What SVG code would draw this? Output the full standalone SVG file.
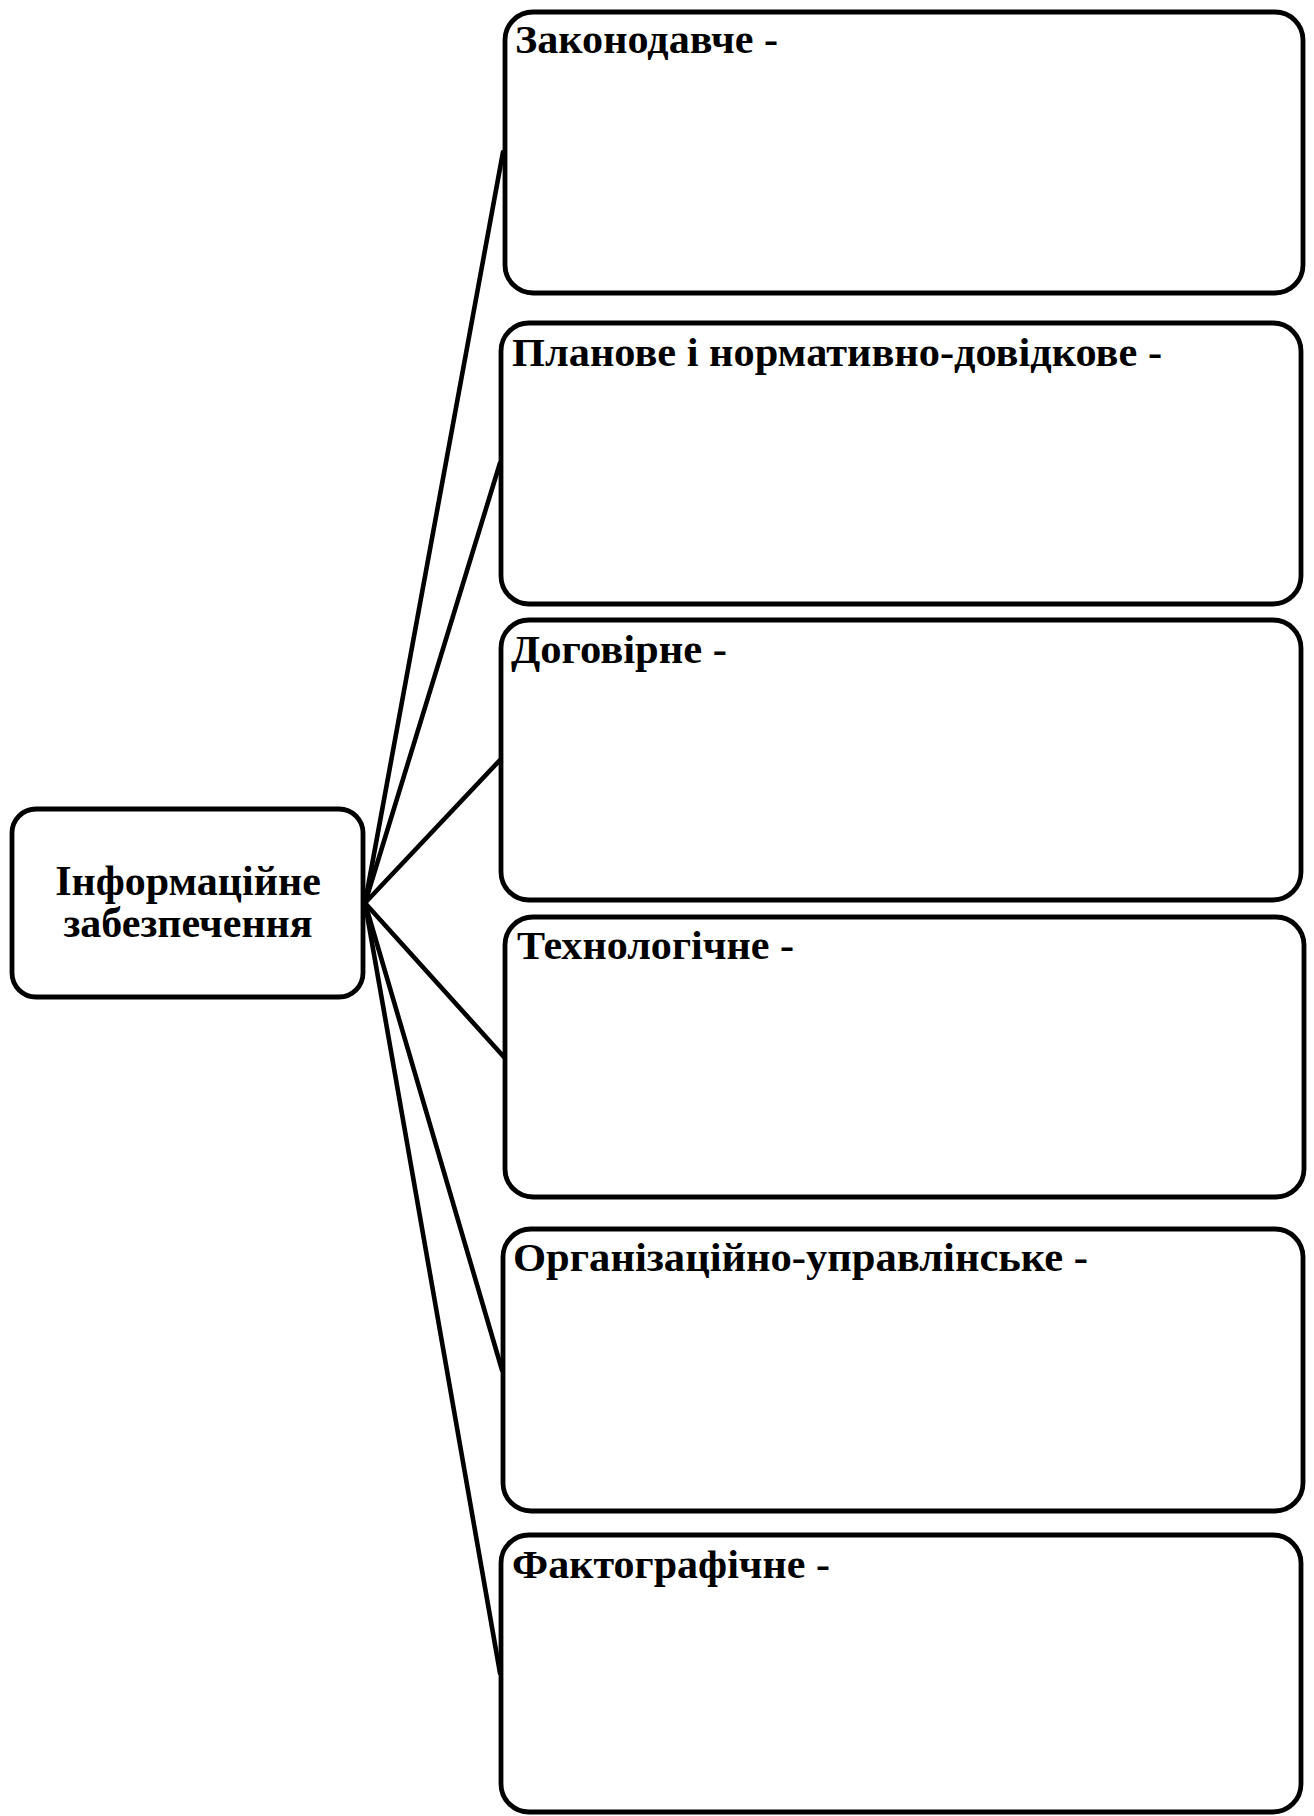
<svg xmlns="http://www.w3.org/2000/svg" width="1314" height="1816" viewBox="0 0 1314 1816">
  <style>
    .box { fill: #ffffff; stroke: #000000; stroke-width: 4.8; }
    .link { fill: none; stroke: #000000; stroke-width: 4.6; stroke-linecap: round; }
    .title { font-family: "Liberation Serif", "Times New Roman", serif; font-weight: bold; font-size: 39px; fill: #000000; }
    .hub { font-family: "Liberation Serif", "Times New Roman", serif; font-weight: bold; font-size: 42px; fill: #000000; text-anchor: middle; }
  </style>
  <rect width="1314" height="1816" fill="#ffffff"/>

  <!-- connectors from the hub to each category box -->
  <g id="connectors">
    <line class="link" x1="365" y1="903" x2="503" y2="152"/>
    <line class="link" x1="365" y1="903" x2="500" y2="463"/>
    <line class="link" x1="365" y1="903" x2="500" y2="760"/>
    <line class="link" x1="365" y1="903" x2="504" y2="1057"/>
    <line class="link" x1="365" y1="903" x2="502" y2="1370"/>
    <line class="link" x1="365" y1="903" x2="500" y2="1673"/>
  </g>

  <g id="hub">
    <rect class="box" x="12" y="809" width="351" height="188" rx="24"/>
    <text class="hub" x="188" y="895">Інформаційне</text>
    <text class="hub" x="188" y="937">забезпечення</text>
  </g>

  <g id="legislative">
    <rect class="box" x="505" y="12" width="798" height="281" rx="28"/>
    <text class="title" x="515" y="53" textLength="263" lengthAdjust="spacingAndGlyphs">Законодавче -</text>
  </g>

  <g id="planning">
    <rect class="box" x="501" y="323" width="800" height="281" rx="28"/>
    <text class="title" x="512" y="366" textLength="650" lengthAdjust="spacingAndGlyphs">Планове і нормативно-довідкове -</text>
  </g>

  <g id="contractual">
    <rect class="box" x="501" y="620" width="800" height="280" rx="28"/>
    <text class="title" x="511" y="663" textLength="216" lengthAdjust="spacingAndGlyphs">Договірне -</text>
  </g>

  <g id="technological">
    <rect class="box" x="505" y="917" width="799" height="280" rx="28"/>
    <text class="title" x="517" y="959" textLength="277" lengthAdjust="spacingAndGlyphs">Технологічне -</text>
  </g>

  <g id="organizational">
    <rect class="box" x="503" y="1229" width="800" height="282" rx="28"/>
    <text class="title" x="513" y="1271" textLength="575" lengthAdjust="spacingAndGlyphs">Організаційно-управлінське  -</text>
  </g>

  <g id="factographic">
    <rect class="box" x="501" y="1535" width="800" height="277" rx="28"/>
    <text class="title" x="512" y="1578" textLength="318" lengthAdjust="spacingAndGlyphs">Фактографічне -</text>
  </g>
</svg>
